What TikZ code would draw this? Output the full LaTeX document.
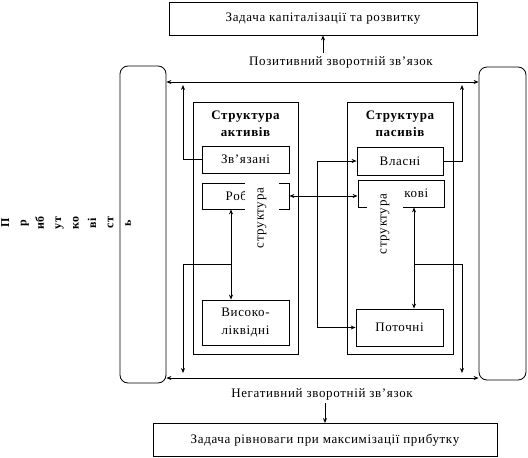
\documentclass[tikz,border=0pt]{standalone}
\usepackage{fontspec}
\setmainfont{Liberation Serif}[LetterSpace=5]
\usetikzlibrary{arrows.meta}

\tikzstyle{task} = [rectangle, draw=black, line width=0.8pt, minimum width=308pt, minimum height=33pt, text centered]
\tikzstyle{side} = [rectangle, rounded corners=8pt, draw=black, line width=0.8pt, minimum width=46pt, minimum height=317pt]
\tikzstyle{panel} = [rectangle, draw=black, line width=0.8pt, minimum width=105pt, minimum height=252pt]
\tikzstyle{title} = [align=center, font=\bfseries\fontsize{13}{17}\selectfont]
\tikzstyle{item} = [rectangle, draw=black, line width=0.8pt, minimum width=87pt, minimum height=27pt, inner sep=0pt, align=center, font=\fontsize{13}{18}\selectfont]
\tikzstyle{cover} = [rectangle, fill=white, rotate=90, minimum width=74pt, minimum height=34pt, inner sep=0pt]
\tikzstyle{arrow} = [line width=0.8pt, ->, >={Stealth[length=5pt,width=4pt]}]

\begin{document}
\begin{tikzpicture}[x=1pt, y=-1pt, font=\fontsize{13}{15}\selectfont]
	\useasboundingbox (0,0) rectangle (528,458);
	\node (goal1) [task] at (323,18.5) {Задача капіталізації та розвитку};
	\node (goal2) [task, minimum width=344pt] at (325,440) {Задача рівноваги при максимізації прибутку};
	\node (pos) at (341,62) {Позитивний зворотній зв’язок};
	\node (neg) at (322,394) {Негативний зворотній зв’язок};

	\node (side1) [side] at (143,224.5) {};
	\node (side2) [side, minimum width=47pt, minimum height=313pt] at (502.5,223.5) {};
	\node (profit) [rotate=90, align=center, font=\bfseries\fontsize{12}{17.4}\selectfont] at (66,223) {П\\р\\иб\\ут\\ко\\ві\\ст\\ь};

	\node (assets) [panel] at (245.5,228) {};
	\node (liabs) [panel, minimum width=106pt] at (400,228) {};
	\node (assetsT) [title] at (245.5,123.5) {Структура\\активів};
	\node (liabsT) [title] at (400,123.5) {Структура\\пасивів};

	\node (bound) [item] at (245.5,159.5) {Зв’язані};
	\node (work) [item, minimum height=26pt] at (245.5,196) {Робочі};
	\node (liquid) [item, minimum height=45pt] at (245.5,322.5) {Високо-\\ліквідні};
	\node (own) [item, minimum width=86pt, minimum height=28pt] at (400,161) {Власні};
	\node (loan) [item, minimum width=86pt] at (401,193.5) {Позикові};
	\node (current) [item, minimum height=37pt] at (399.5,327.5) {Поточні};
	\node (cover1) [cover] at (262,218) {структура};
	\node (cover2) [cover, minimum width=84pt, minimum height=36pt] at (385,224) {структура};

	\coordinate (posy) at (0,82);
	\coordinate (negy) at (0,378);
	\coordinate (lup) at (183,85);
	\coordinate (rup) at (462,85);
	\coordinate (ldown) at (183,373);
	\coordinate (rdown) at (462,373);
	\coordinate (ljoin) at (231,264);
	\coordinate (rjoin) at (414,264);

	\draw [arrow, <->] (side1.east |- posy) -- (side2.west |- posy);
	\draw [arrow, <->] (side1.east |- negy) -- (side2.west |- negy);
	\draw [arrow] (goal1.south |- pos.north) -- (goal1.south);
	\draw [arrow] (goal2.north |- neg.south) -- (goal2.north);
	\draw [arrow] (bound.west) -| (lup);
	\draw [arrow] (own.east) -| (rup);
	\draw [arrow] (ljoin) -| (ldown);
	\draw [arrow] (ljoin) -- (ljoin |- work.south);
	\draw [arrow] (ljoin) -- (ljoin |- liquid.north);
	\draw [arrow] (rjoin) -| (rdown);
	\draw [arrow] (rjoin) -- (rjoin |- loan.south);
	\draw [arrow] (rjoin) -- (rjoin |- current.north);
	\draw [arrow, <->] (own.west) -- ++(-39,0) |- (current.west);
	\draw [arrow, <->] (work.east) -- (work.east -| loan.west);
\end{tikzpicture}
\end{document}
